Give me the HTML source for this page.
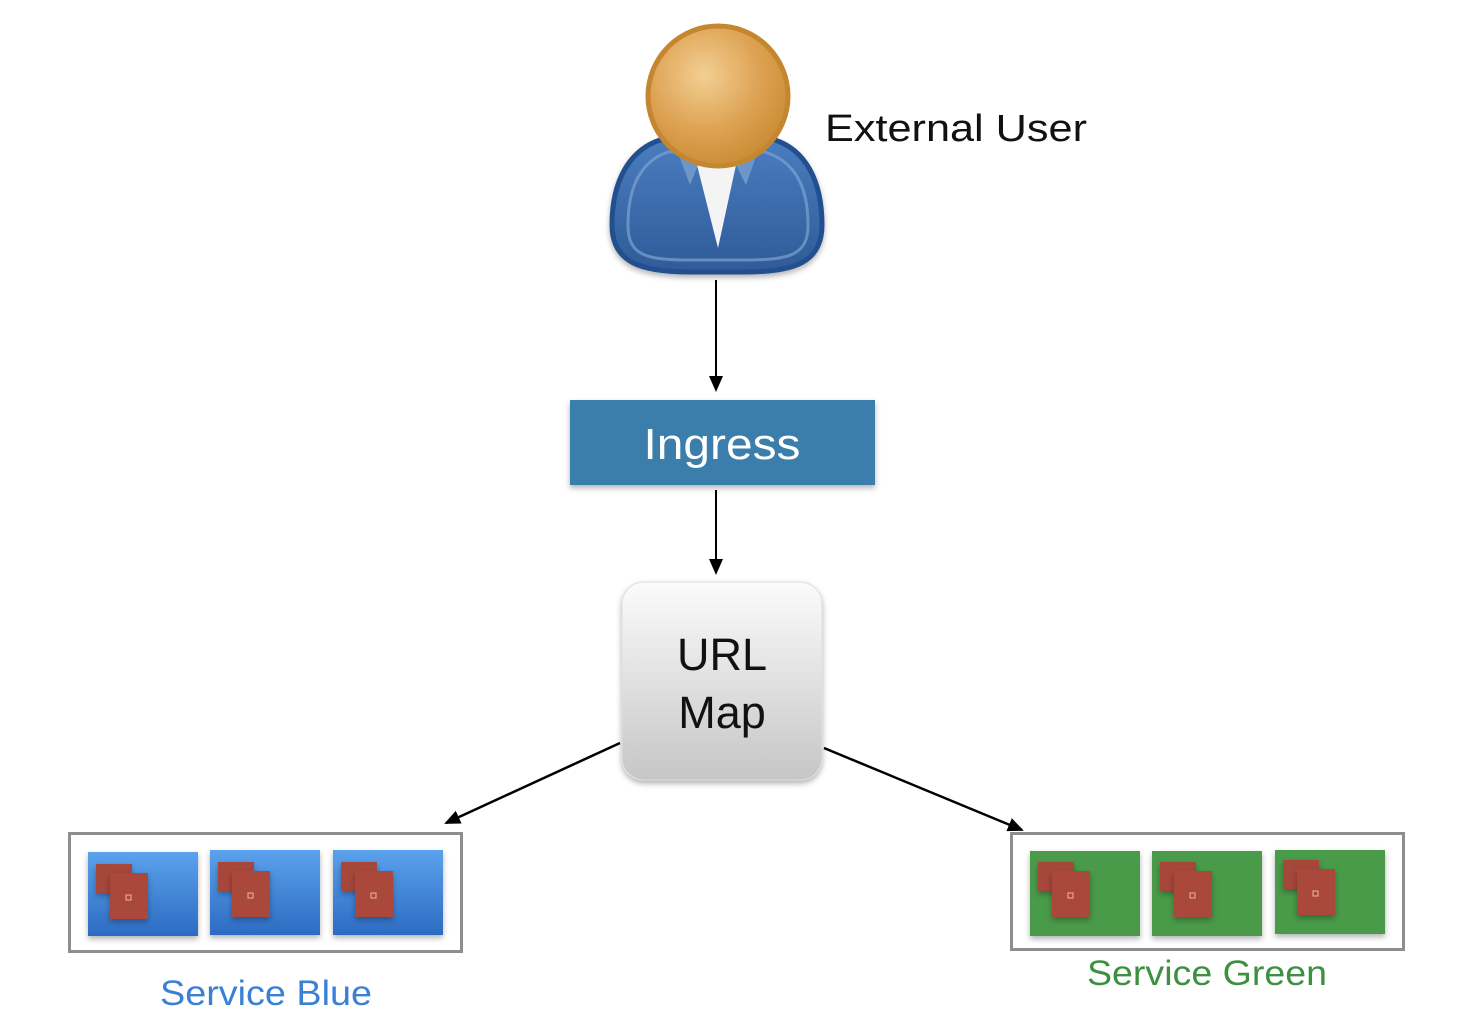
<!DOCTYPE html>
<html><head><meta charset="utf-8"><style>
html,body{margin:0;padding:0;background:#fff;}
svg{display:block;}
text{font-family:"Liberation Sans",sans-serif;}
</style></head><body>
<svg width="1468" height="1026" viewBox="0 0 1468 1026" xmlns="http://www.w3.org/2000/svg">
<defs>
<radialGradient id="head" cx="0.4" cy="0.35" r="0.7">
<stop offset="0" stop-color="#f3cf93"/><stop offset="0.6" stop-color="#dca050"/><stop offset="1" stop-color="#c98a32"/>
</radialGradient>
<linearGradient id="body" x1="0" y1="0" x2="0" y2="1">
<stop offset="0" stop-color="#4a7cbf"/><stop offset="1" stop-color="#2f5b98"/>
</linearGradient>
<linearGradient id="url" x1="0" y1="0" x2="0" y2="1">
<stop offset="0" stop-color="#fbfbfb"/><stop offset="1" stop-color="#c6c6c6"/>
</linearGradient>
<linearGradient id="blue" x1="0" y1="0" x2="0" y2="1">
<stop offset="0" stop-color="#5ba2ec"/><stop offset="1" stop-color="#2c6bc2"/>
</linearGradient>
<filter id="sh" x="-20%" y="-20%" width="140%" height="150%"><feDropShadow dx="0" dy="3" stdDeviation="3" flood-color="#000" flood-opacity="0.3"/></filter>
<marker id="ah" markerWidth="16" markerHeight="14" refX="14" refY="7" orient="auto" markerUnits="userSpaceOnUse">
<path d="M0,0 L16,7 L0,14 Z" fill="#000"/></marker>
<g id="pod">
<rect x="8" y="6" width="36" height="29" fill="#a5473a" filter="url(#sh)"/>
<rect x="22" y="15" width="38" height="46" fill="#aa4a3b" filter="url(#sh)"/>
<rect x="38" y="37" width="5" height="5" fill="none" stroke="#e8b8a8" stroke-width="1"/>
</g>
</defs>

<!-- Person -->
<g filter="url(#sh)">
<path d="M660,140 C630,150 612,180 612,225 C612,262 640,272 690,272 L745,272 C795,272 822,262 822,225 C822,180 805,150 775,140 Z" fill="url(#body)" stroke="#234f8e" stroke-width="5"/>
</g>
<path d="M628,225 C628,175 650,158 668,152 L765,152 C790,160 808,180 808,225 C808,255 790,260 745,260 L690,260 C645,260 628,255 628,225 Z" fill="none" stroke="#7ea2d2" stroke-width="3" opacity="0.7"/>
<path d="M697,165 L736,165 L718,248 Z" fill="#f4f4f4"/>
<path d="M675,145 L698,165 L690,185 Z M760,145 L736,165 L746,185 Z" fill="#6f96c8"/>
<circle cx="718" cy="96" r="70" fill="url(#head)" stroke="#c4862e" stroke-width="5"/>
<text x="825" y="141" font-size="38" fill="#111" textLength="262" lengthAdjust="spacingAndGlyphs">External User</text>

<!-- Arrows -->
<line x1="716" y1="280" x2="716" y2="390" stroke="#000" stroke-width="2" marker-end="url(#ah)"/>
<line x1="716" y1="490" x2="716" y2="573" stroke="#000" stroke-width="2" marker-end="url(#ah)"/>
<line x1="620" y1="743" x2="446" y2="823" stroke="#000" stroke-width="2.5" marker-end="url(#ah)"/>
<line x1="824" y1="748" x2="1022" y2="830" stroke="#000" stroke-width="2.5" marker-end="url(#ah)"/>

<!-- Ingress -->
<rect x="570" y="400" width="305" height="85" fill="#3b7eab" filter="url(#sh)"/>
<text x="722" y="459" font-size="44" fill="#fff" text-anchor="middle" textLength="157" lengthAdjust="spacingAndGlyphs">Ingress</text>

<!-- URL Map -->
<rect x="622" y="582" width="200" height="198" rx="22" fill="url(#url)" stroke="#e0e0e0" filter="url(#sh)"/>
<text x="722" y="670" font-size="45" fill="#111" text-anchor="middle">URL</text>
<text x="722" y="728" font-size="45" fill="#111" text-anchor="middle">Map</text>

<!-- Service Blue -->
<rect x="69.5" y="833.5" width="392" height="118" fill="#fff" stroke="#8e8e8e" stroke-width="3"/>
<rect x="88" y="852" width="110" height="84" fill="url(#blue)" filter="url(#sh)"/>
<rect x="210" y="850" width="110" height="85" fill="url(#blue)" filter="url(#sh)"/>
<rect x="333" y="850" width="110" height="85" fill="url(#blue)" filter="url(#sh)"/>
<use href="#pod" x="88" y="858"/>
<use href="#pod" x="210" y="856"/>
<use href="#pod" x="333" y="856"/>
<text x="266" y="1005" font-size="35" fill="#3a80d6" text-anchor="middle" textLength="212" lengthAdjust="spacingAndGlyphs">Service Blue</text>

<!-- Service Green -->
<rect x="1011.5" y="833.5" width="392" height="116" fill="#fff" stroke="#8e8e8e" stroke-width="3"/>
<rect x="1030" y="851" width="110" height="85" fill="#4a9a4a" filter="url(#sh)"/>
<rect x="1152" y="851" width="110" height="85" fill="#4a9a4a" filter="url(#sh)"/>
<rect x="1275" y="850" width="110" height="84" fill="#4a9a4a" filter="url(#sh)"/>
<use href="#pod" x="1030" y="856"/>
<use href="#pod" x="1152" y="856"/>
<use href="#pod" x="1275" y="854"/>
<text x="1207" y="985" font-size="35" fill="#3d9040" text-anchor="middle" textLength="240" lengthAdjust="spacingAndGlyphs">Service Green</text>
</svg>
</body></html>
